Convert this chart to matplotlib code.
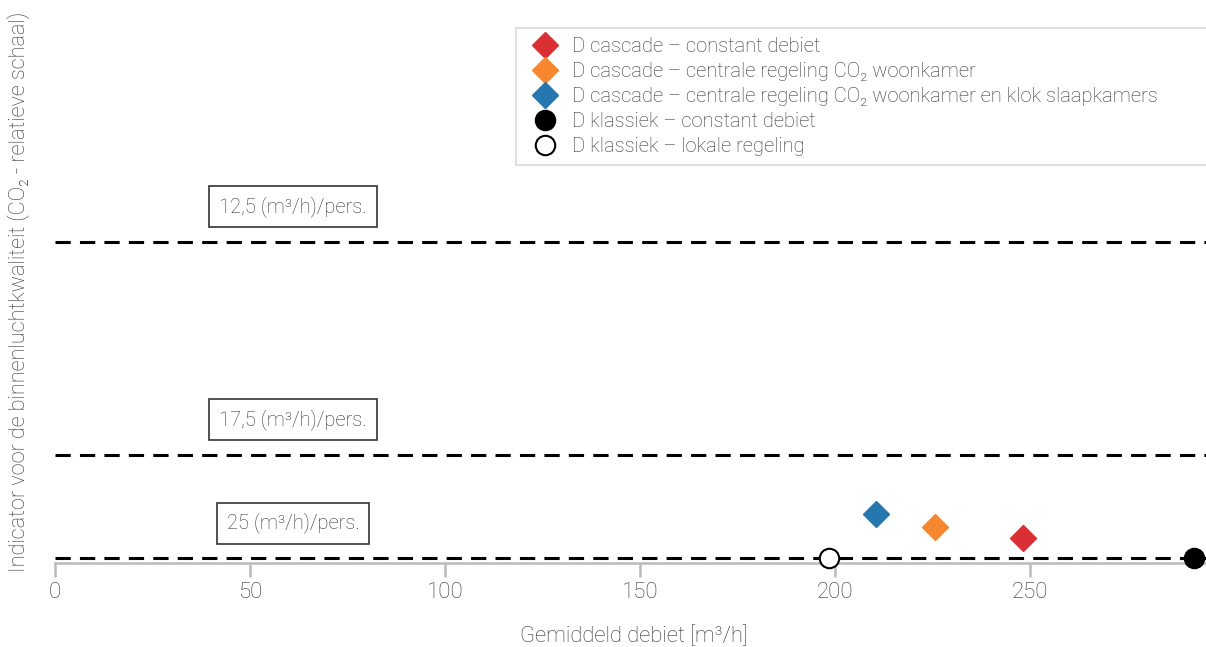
import matplotlib
matplotlib.use("Agg")
import matplotlib.pyplot as plt
from matplotlib.lines import Line2D

plt.rcParams['font.family'] = ['Roboto', 'DejaVu Sans']
plt.rcParams['font.weight'] = 'light'

# Reference flow levels (relative CO2 indicator) and their labels
level_values = [0, 103, 316]
level_labels = ["25 (m³/h)/pers.", "17,5 (m³/h)/pers.", "12,5 (m³/h)/pers."]
label_x = 61
label_offset = 35

# Systems: mean flow [m³/h] and relative indicator
series_names = [
    "D cascade – constant debiet",
    "D cascade – centrale regeling CO₂ woonkamer",
    "D cascade – centrale regeling CO₂ woonkamer en klok slaapkamers",
    "D klassiek – constant debiet",
    "D klassiek – lokale regeling",
]
series_x = [248, 225.5, 210.5, 292, 198.5]
series_y = [20, 31, 44, 0, 0]
series_colors = ["#da3035", "#f6872f", "#2677b0", "black", "white"]
series_markers = ["D", "D", "D", "o", "o"]

x_ticks = [0, 50, 100, 150, 200, 250]

text_color = "#333333"
axis_gray = "#bbbbbb"

fig = plt.figure(figsize=(12.06, 6.47), dpi=100)
ax = fig.add_axes([0.0456, 0.1298, 0.9544, 0.858])

for lv in level_values:
    ax.axhline(lv, color="black", lw=2.2, ls=(0, (5, 3)), zorder=2)

for lv, lab in zip(level_values, level_labels):
    ax.text(label_x, lv + label_offset, lab, ha="center", va="center",
            fontsize=14.5, color=text_color,
            bbox=dict(boxstyle="square,pad=0.5", fc="white", ec="#333333", lw=1.2))

handles = []
for name, x, y, c, m in zip(series_names, series_x, series_y, series_colors, series_markers):
    if m == "D":
        ax.plot(x, y, marker=m, ms=13, color=c, mec=c, ls="none", zorder=4, clip_on=False)
        handles.append(Line2D([], [], marker=m, ms=13, color=c, mec=c, ls="none"))
    else:
        ax.plot(x, y, marker=m, ms=14, mfc=c, mec="black", mew=1.5, ls="none",
                zorder=4, clip_on=False)
        handles.append(Line2D([], [], marker=m, ms=14, mfc=c, mec="black", mew=1.5, ls="none"))

ax.set_xlim(0, 295)
ax.set_ylim(-5, 550)
ax.set_xticks(x_ticks)
ax.set_yticks([])
for s in ["top", "right", "left"]:
    ax.spines[s].set_visible(False)
ax.spines["bottom"].set_color(axis_gray)
ax.spines["bottom"].set_linewidth(1.8)
ax.tick_params(axis="x", colors=axis_gray, length=10, width=1.8, labelsize=16,
               labelcolor=text_color, pad=4)

fig.text(634 / 1206, 1 - 636 / 647, "Gemiddeld debiet [m³/h]", fontsize=15.8,
         color=text_color, ha="center", va="center")
fig.text(19 / 1206, 1 - 292 / 647,
         "Indicator voor de binnenluchtkwaliteit (CO₂ - relatieve schaal)",
         fontsize=15.6, color=text_color, ha="center", va="center", rotation=90)

leg = ax.legend(handles, series_names, loc="upper left",
                bbox_to_anchor=(0.4005, 0.0, 0.66, 0.964), mode="expand",
                fontsize=14.5, frameon=True, fancybox=False, edgecolor="#d9d9d9",
                handletextpad=0.35, labelspacing=0.3, borderpad=0.45, handlelength=2.0,
                borderaxespad=0.0)
leg.get_frame().set_linewidth(1.5)
for t in leg.get_texts():
    t.set_color(text_color)

fig.savefig("out.png", dpi=100)
